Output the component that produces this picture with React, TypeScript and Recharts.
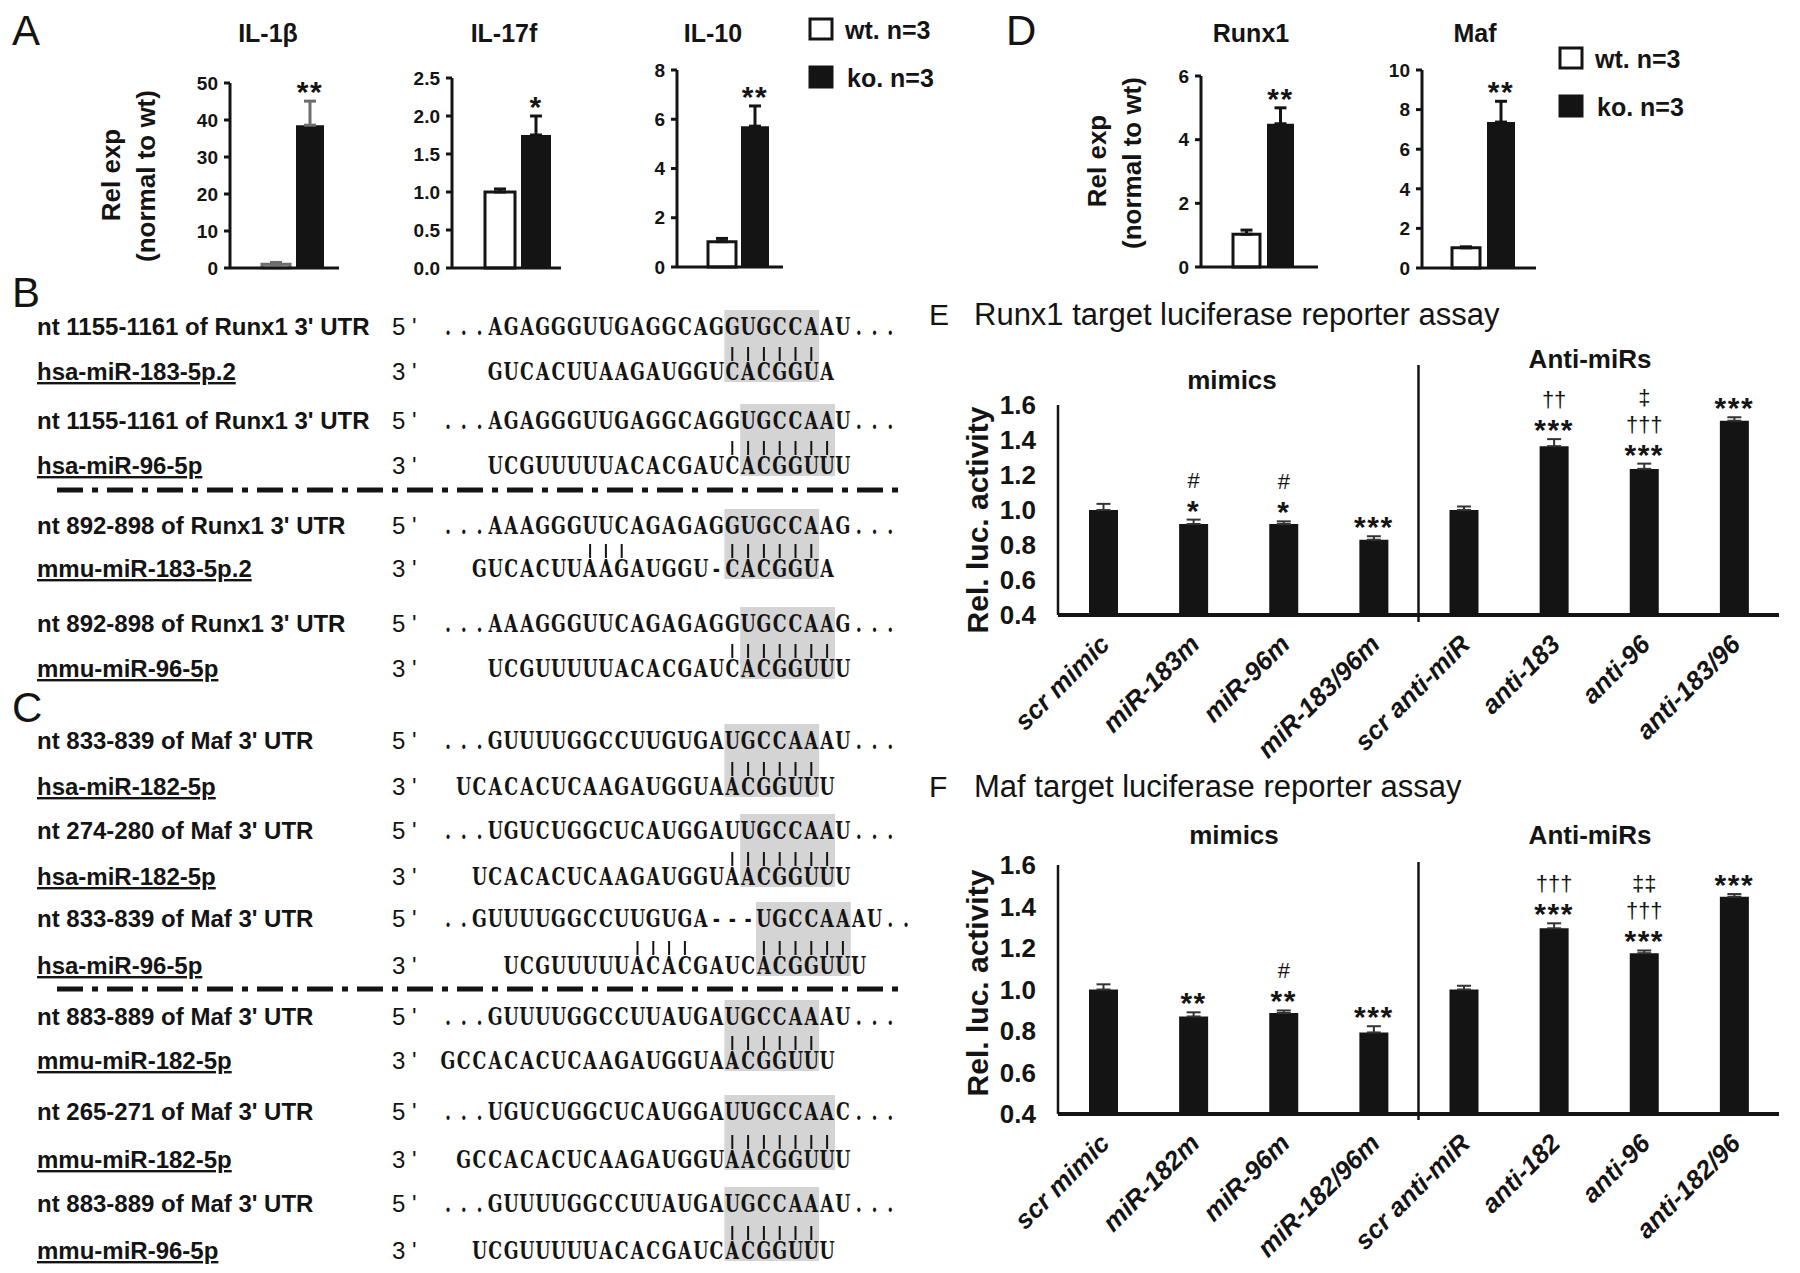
import {
  Bar,
  BarChart,
  ErrorBar,
  LabelList,
  ReferenceLine,
  XAxis,
  YAxis,
} from 'recharts'

const INK = '#141414'
const SANS = "'Liberation Sans', Arial, sans-serif"
const SEQ_FONT = "'DejaVu Serif', 'Liberation Serif', serif"

/* A: cytokine expression, wt vs ko */
const A_GENES = ['IL-1β', 'IL-17f', 'IL-10']
const A_WT = [1.0, 1.0, 1.03]
const A_WT_ERR = [0.5, 0.04, 0.13]
const A_KO = [38.6, 1.75, 5.72]
const A_KO_ERR = [6.5, 0.25, 0.82]
const A_SIG = ['**', '*', '**']
const A_TICKS = [
  [0, 10, 20, 30, 40, 50],
  [0, 0.5, 1.0, 1.5, 2.0, 2.5],
  [0, 2, 4, 6, 8],
]

/* D: transcription factors, wt vs ko */
const D_GENES = ['Runx1', 'Maf']
const D_WT = [1.03, 1.02]
const D_WT_ERR = [0.13, 0.05]
const D_KO = [4.5, 7.37]
const D_KO_ERR = [0.5, 1.05]
const D_SIG = ['**', '**']
const D_TICKS = [
  [0, 2, 4, 6],
  [0, 2, 4, 6, 8, 10],
]

/* E: Runx1 luciferase */
const E_CATS = ['scr mimic', 'miR-183m', 'miR-96m', 'miR-183/96m', 'scr anti-miR', 'anti-183', 'anti-96', 'anti-183/96']
const E_VALS = [1.0, 0.92, 0.92, 0.83, 1.0, 1.365, 1.235, 1.51]
const E_ERRS = [0.035, 0.025, 0.015, 0.02, 0.02, 0.04, 0.03, 0.02]
const E_SIG = [[], ['*', '#'], ['*', '#'], ['***'], [], ['***', '††'], ['***', '†††', '‡'], ['***']]

/* F: Maf luciferase */
const F_CATS = ['scr mimic', 'miR-182m', 'miR-96m', 'miR-182/96m', 'scr anti-miR', 'anti-182', 'anti-96', 'anti-182/96']
const F_VALS = [1.0, 0.87, 0.887, 0.793, 1.0, 1.295, 1.175, 1.447]
const F_ERRS = [0.025, 0.02, 0.012, 0.03, 0.018, 0.024, 0.013, 0.013]
const F_SIG = [[], ['**'], ['**', '#'], ['***'], [], ['***', '†††'], ['***', '†††', '‡‡'], ['***']]

const LUC_TICKS = [0.4, 0.6, 0.8, 1.0, 1.2, 1.4, 1.6]

/* B / C: seed alignments */
type Pair = {
  utr: string
  mir: string
  top: string
  bot: string
  off: number
  box: [number, number]
  bars: number[]
  y: number
  y2: number
}

const RUNX1_H = '...AGAGGGUUGAGGCAGGUGCCAAU...'
const RUNX1_M = '...AAAGGGUUCAGAGAGGUGCCAAG...'
const MAF_833 = '...GUUUUGGCCUUGUGAUGCCAAAU...'
const MAF_274 = '...UGUCUGGCUCAUGGAUUGCCAAU...'
const MAF_883 = '...GUUUUGGCCUUAUGAUGCCAAAU...'
const MAF_265 = '...UGUCUGGCUCAUGGAUUGCCAAC...'
const MIR183 = 'GUCACUUAAGAUGGUCACGGUA'
const MIR96 = 'UCGUUUUUACACGAUCACGGUUU'
const MIR182H = 'UCACACUCAAGAUGGUAACGGUUU'
const MIR182M = 'GCCACACUCAAGAUGGUAACGGUUU'

const span = (a: number, b: number) => Array.from({ length: b - a + 1 }, (_, k) => a + k)

const B_PAIRS: Pair[] = [
  { utr: "nt 1155-1161 of Runx1 3' UTR", mir: 'hsa-miR-183-5p.2', top: RUNX1_H, bot: MIR183, off: 3, box: [18, 6], bars: span(18, 23), y: 335, y2: 380 },
  { utr: "nt 1155-1161 of Runx1 3' UTR", mir: 'hsa-miR-96-5p', top: RUNX1_H, bot: MIR96, off: 3, box: [19, 6], bars: span(18, 24), y: 429, y2: 474 },
  { utr: "nt 892-898 of Runx1 3' UTR", mir: 'mmu-miR-183-5p.2', top: RUNX1_M, bot: 'GUCACUUAAGAUGGU-CACGGUA', off: 2, box: [18, 6], bars: [9, 10, 11, ...span(18, 23)], y: 534, y2: 577 },
  { utr: "nt 892-898 of Runx1 3' UTR", mir: 'mmu-miR-96-5p', top: RUNX1_M, bot: MIR96, off: 3, box: [19, 6], bars: span(18, 24), y: 632, y2: 677 },
]

const C_PAIRS: Pair[] = [
  { utr: "nt 833-839 of Maf 3' UTR", mir: 'hsa-miR-182-5p', top: MAF_833, bot: MIR182H, off: 1, box: [18, 6], bars: span(18, 23), y: 749, y2: 795 },
  { utr: "nt 274-280 of Maf 3' UTR", mir: 'hsa-miR-182-5p', top: MAF_274, bot: MIR182H, off: 2, box: [19, 6], bars: span(18, 24), y: 839, y2: 885 },
  { utr: "nt 833-839 of Maf 3' UTR", mir: 'hsa-miR-96-5p', top: '..GUUUUGGCCUUGUGA---UGCCAAAU..', bot: MIR96, off: 4, box: [20, 6], bars: [...span(12, 15), ...span(20, 25)], y: 927, y2: 974 },
  { utr: "nt 883-889 of Maf 3' UTR", mir: 'mmu-miR-182-5p', top: MAF_883, bot: MIR182M, off: 0, box: [18, 6], bars: span(18, 23), y: 1025, y2: 1069 },
  { utr: "nt 265-271 of Maf 3' UTR", mir: 'mmu-miR-182-5p', top: MAF_265, bot: MIR182M, off: 1, box: [18, 7], bars: span(18, 24), y: 1120, y2: 1168 },
  { utr: "nt 883-889 of Maf 3' UTR", mir: 'mmu-miR-96-5p', top: MAF_883, bot: MIR96, off: 2, box: [18, 6], bars: span(18, 23), y: 1212, y2: 1259 },
]

const X0 = 440
const CW = 15.8
const SX = 0.74

// significance marks stacked above the error bar
const sigLabel = (lines: string[][], vals: number[], errs: number[], base: number) => (props: any) => {
  const vb = props.viewBox ?? props
  const i = typeof props.value === 'number' ? props.value : props.index ?? 0
  if (!lines[i] || !lines[i].length) return null
  const perUnit = vb.height / (vals[i] - base)
  const errTop = vb.y - errs[i] * perUnit
  const cx = vb.x + vb.width / 2
  let yb = errTop + 1
  return (
    <g>
      {lines[i].map((t, k) => {
        const star = t.includes('*')
        if (k > 0) yb -= lines[i][k - 1].includes('*') ? 33 : 27
        return (
          <text
            key={k}
            x={cx}
            y={yb}
            textAnchor="middle"
            fill={INK}
            fontFamily={SANS}
            fontSize={star ? 30 : 22}
            fontWeight={star ? 700 : 400}
            letterSpacing={star ? 1.5 : 0}
          >
            {t}
          </text>
        )
      })}
    </g>
  )
}

type SmallProps = {
  name: string
  wt: number
  wtErr: number
  ko: number
  koErr: number
  sig: string
  ticks: number[]
  box: [number, number, number, number]
  pad: number
  size: number
  gap: number
  tone: string
}

const SmallChart = ({ name, wt, wtErr, ko, koErr, sig, ticks, box, pad, size, gap, tone }: SmallProps) => {
  const [l, t, r, b] = box
  const ML = 62
  const MT = 34
  const MB = 10
  const MR = 6
  const XH = 2
  const data = [{ name, wt, ko, wtE: [0, wtErr], koE: [0, koErr], i: 0 }]
  const dec = ticks.some((v) => !Number.isInteger(v)) ? 1 : 0
  return (
    <div style={{ position: 'absolute', left: l - ML, top: t - MT }}>
      <BarChart
        width={r - l + ML + MR}
        height={b - t + MT + MB + XH}
        data={data}
        margin={{ top: MT, right: MR, bottom: MB, left: 0 }}
        barSize={size}
        barGap={gap}
      >
        <XAxis
          dataKey="name"
          height={XH}
          tick={false}
          tickLine={false}
          padding={{ left: pad, right: 0 }}
          axisLine={{ stroke: INK, strokeWidth: 3 }}
        />
        <YAxis
          width={ML}
          domain={[0, ticks[ticks.length - 1]]}
          ticks={ticks}
          interval={0}
          tickFormatter={(v) => Number(v).toFixed(dec)}
          tickSize={6}
          tickMargin={6}
          tickLine={{ stroke: INK, strokeWidth: 3 }}
          axisLine={{ stroke: INK, strokeWidth: 3 }}
          tick={{ fill: INK, fontSize: 19, fontWeight: 700, fontFamily: SANS }}
        />
        <Bar dataKey="wt" fill={tone === INK ? '#fff' : '#c4c4c4'} stroke={tone} strokeWidth={3} isAnimationActive={false}>
          <ErrorBar dataKey="wtE" width={6} stroke={tone} strokeWidth={3} />
        </Bar>
        <Bar dataKey="ko" fill={INK} isAnimationActive={false}>
          <ErrorBar dataKey="koE" width={6} stroke={tone} strokeWidth={3} />
          <LabelList dataKey="i" content={sigLabel([[sig]], [ko], [koErr], 0)} />
        </Bar>
      </BarChart>
    </div>
  )
}

const SlantTick = (p: any) => {
  const ax = p.x + 8
  const ay = p.y + 29
  return (
    <text
      x={ax}
      y={ay}
      transform={`rotate(-45 ${ax} ${ay})`}
      textAnchor="end"
      fill={INK}
      fontFamily={SANS}
      fontSize={26}
      fontWeight={700}
      fontStyle="italic"
    >
      {p.payload.value}
    </text>
  )
}

type LucProps = {
  cats: string[]
  vals: number[]
  errs: number[]
  sig: string[][]
  box: [number, number, number, number]
  divUp: number
  divDown: number
}

const LucChart = ({ cats, vals, errs, sig, box, divUp, divDown }: LucProps) => {
  const [l, t, r, b] = box
  const ML = 90
  const MT = 80
  const MR = 10
  const XH = 170
  const data = cats.map((name, i) => ({ name, v: vals[i], e: [0, errs[i]], i }))
  return (
    <div style={{ position: 'absolute', left: l - ML, top: t - MT }}>
      <BarChart
        width={r - l + ML + MR}
        height={b - t + MT + XH}
        data={data}
        margin={{ top: MT, right: MR, bottom: 0, left: 0 }}
        barSize={29}
      >
        <XAxis
          dataKey="name"
          interval={0}
          height={XH}
          tickLine={false}
          tickSize={0}
          tick={(p: any) => <SlantTick {...p} />}
          axisLine={{ stroke: INK, strokeWidth: 4 }}
        />
        <YAxis
          width={ML}
          domain={[0.4, 1.6]}
          ticks={LUC_TICKS}
          interval={0}
          tickFormatter={(v) => Number(v).toFixed(1)}
          tickLine={false}
          tickSize={0}
          tickMargin={22}
          axisLine={{ stroke: INK, strokeWidth: 2.5 }}
          tick={{ fill: INK, fontSize: 26, fontWeight: 700, fontFamily: SANS }}
        />
        <ReferenceLine
          x={cats[4]}
          position="start"
          ifOverflow="visible"
          shape={(p: any) => (
            <line
              x1={p.x1}
              x2={p.x2}
              y1={Math.min(p.y1, p.y2) - divUp}
              y2={Math.max(p.y1, p.y2) + divDown}
              stroke={INK}
              strokeWidth={2.5}
            />
          )}
        />
        <Bar dataKey="v" fill={INK} isAnimationActive={false}>
          <ErrorBar dataKey="e" width={7} stroke="#333" strokeWidth={2} />
          <LabelList dataKey="i" content={sigLabel(sig, vals, errs, 0.4)} />
        </Bar>
      </BarChart>
    </div>
  )
}

const SeqPair = ({ p }: { p: Pair }) => {
  const cell = (i: number) => X0 + i * CW
  // glyph centres, divided by SX because the text is squeezed horizontally
  const xs = (s: string, off: number) =>
    s
      .split('')
      .map((_, i) => ((cell(i + off) + CW / 2) / SX).toFixed(1))
      .join(' ')
  return (
    <g>
      <rect x={cell(p.box[0])} y={p.y - 25} width={p.box[1] * CW} height={p.y2 - p.y + 27} fill="#d4d4d4" />
      <text x={37} y={p.y} fontSize={24} fontWeight={700}>
        {p.utr}
      </text>
      <text x={37} y={p.y2} fontSize={24} fontWeight={700} textDecoration="underline">
        {p.mir}
      </text>
      <text x={392} y={p.y} fontSize={24}>
        5 '
      </text>
      <text x={392} y={p.y2} fontSize={24}>
        3 '
      </text>
      <g transform={`scale(${SX} 1)`}>
        <text x={xs(p.top, 0)} y={p.y} fontFamily={SEQ_FONT} fontSize={23.5} fontWeight={700} textAnchor="middle">
          {p.top}
        </text>
        <text x={xs(p.bot, p.off)} y={p.y2} fontFamily={SEQ_FONT} fontSize={23.5} fontWeight={700} textAnchor="middle">
          {p.bot}
        </text>
      </g>
      {p.bars.map((i) => (
        <line key={i} x1={cell(i) + CW / 2} x2={cell(i) + CW / 2} y1={p.y2 - 33} y2={p.y2 - 19} stroke={INK} strokeWidth={2} />
      ))}
    </g>
  )
}

const SMALL_A: Omit<SmallProps, 'name' | 'wt' | 'wtErr' | 'ko' | 'koErr' | 'sig' | 'ticks'>[] = [
  { box: [230, 83, 339, 268], pad: 17, size: 28, gap: 6, tone: '#6e6e6e' },
  { box: [452, 78, 561, 268], pad: 23, size: 30, gap: 6, tone: INK },
  { box: [677, 70, 783, 267], pad: 16, size: 28, gap: 5, tone: INK },
]
const SMALL_D: Omit<SmallProps, 'name' | 'wt' | 'wtErr' | 'ko' | 'koErr' | 'sig' | 'ticks'>[] = [
  { box: [1201, 76, 1318, 267], pad: 7, size: 27, gap: 7, tone: INK },
  { box: [1422, 70, 1536, 268], pad: 9, size: 28, gap: 7, tone: INK },
]

const TITLE_X_A = [268, 504, 713]
const TITLE_X_D = [1251, 1475]

const Legend = ({ x, y }: { x: number; y: number }) => (
  <g>
    <rect x={x} y={y} width={22} height={20} fill="#fff" stroke={INK} strokeWidth={3} />
    <text x={x + 35} y={y + 20} fontSize={25} fontWeight={700}>
      wt. n=3
    </text>
    <rect x={x} y={y + 48} width={22} height={20} fill={INK} stroke={INK} strokeWidth={3} />
    <text x={x + 37} y={y + 68} fontSize={25} fontWeight={700}>
      ko. n=3
    </text>
  </g>
)

const RotLabel = ({ x, y, text, size }: { x: number; y: number; text: string; size: number }) => (
  <text
    transform={`translate(${x} ${y}) rotate(-90)`}
    textAnchor="middle"
    dominantBaseline="central"
    fontSize={size}
    fontWeight={700}
  >
    {text}
  </text>
)

const DashDot = ({ y }: { y: number }) => (
  <line x1={57} x2={907} y1={y} y2={y} stroke={INK} strokeWidth={5} strokeDasharray="26 9 6 9" />
)

export default function App() {
  return (
    <div
      style={{
        position: 'absolute',
        left: 0,
        top: 0,
        width: 1800,
        height: 1273,
        background: '#fff',
        overflow: 'hidden',
      }}
    >
      <svg width={1800} height={1273} style={{ position: 'absolute', left: 0, top: 0 }} fontFamily={SANS} fill={INK}>
        <text x={12} y={45} fontSize={42}>A</text>
        <text x={12} y={307} fontSize={42}>B</text>
        <text x={12} y={722} fontSize={42}>C</text>
        <text x={1006} y={45} fontSize={42}>D</text>
        <text x={929} y={325} fontSize={30}>E</text>
        <text x={929} y={797} fontSize={30}>F</text>

        {A_GENES.map((g, i) => (
          <text key={g} x={TITLE_X_A[i]} y={42} fontSize={25} fontWeight={700} textAnchor="middle">
            {g}
          </text>
        ))}
        {D_GENES.map((g, i) => (
          <text key={g} x={TITLE_X_D[i]} y={42} fontSize={25} fontWeight={700} textAnchor="middle">
            {g}
          </text>
        ))}

        <RotLabel x={111} y={175} text="Rel exp" size={26} />
        <RotLabel x={146} y={176} text="(normal to wt)" size={26} />
        <RotLabel x={1097} y={161} text="Rel exp" size={26} />
        <RotLabel x={1132} y={163} text="(normal to wt)" size={26} />

        <Legend x={810} y={19} />
        <Legend x={1560} y={48} />

        <text x={974} y={325} fontSize={31}>Runx1 target luciferase reporter assay</text>
        <text x={974} y={797} fontSize={31}>Maf target luciferase reporter assay</text>

        <text x={1232} y={389} fontSize={26} fontWeight={700} textAnchor="middle">mimics</text>
        <text x={1590} y={368} fontSize={26} fontWeight={700} textAnchor="middle">Anti-miRs</text>
        <text x={1234} y={844} fontSize={26} fontWeight={700} textAnchor="middle">mimics</text>
        <text x={1590} y={844} fontSize={26} fontWeight={700} textAnchor="middle">Anti-miRs</text>

        <RotLabel x={977} y={520} text="Rel. luc. activity" size={30} />
        <RotLabel x={977} y={983} text="Rel. luc. activity" size={30} />

        {B_PAIRS.map((p, i) => (
          <SeqPair key={`b${i}`} p={p} />
        ))}
        <DashDot y={490} />
        {C_PAIRS.map((p, i) => (
          <SeqPair key={`c${i}`} p={p} />
        ))}
        <DashDot y={989} />
      </svg>

      {A_GENES.map((g, i) => (
        <SmallChart
          key={g}
          name={g}
          wt={A_WT[i]}
          wtErr={A_WT_ERR[i]}
          ko={A_KO[i]}
          koErr={A_KO_ERR[i]}
          sig={A_SIG[i]}
          ticks={A_TICKS[i]}
          {...SMALL_A[i]}
        />
      ))}
      {D_GENES.map((g, i) => (
        <SmallChart
          key={g}
          name={g}
          wt={D_WT[i]}
          wtErr={D_WT_ERR[i]}
          ko={D_KO[i]}
          koErr={D_KO_ERR[i]}
          sig={D_SIG[i]}
          ticks={D_TICKS[i]}
          {...SMALL_D[i]}
        />
      ))}

      <LucChart cats={E_CATS} vals={E_VALS} errs={E_ERRS} sig={E_SIG} box={[1058, 405, 1779, 615]} divUp={40} divDown={7} />
      <LucChart cats={F_CATS} vals={F_VALS} errs={F_ERRS} sig={F_SIG} box={[1058, 865, 1779, 1114]} divUp={3} divDown={6} />
    </div>
  )
}
